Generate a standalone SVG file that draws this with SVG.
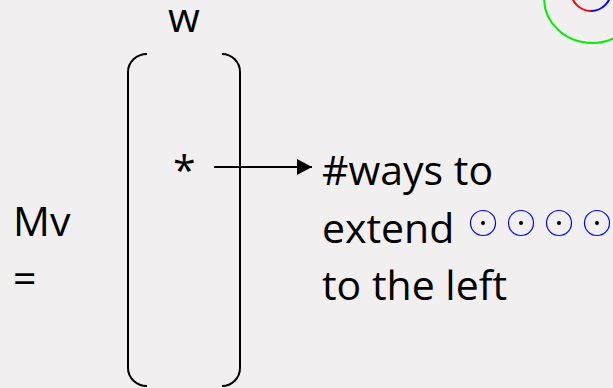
<svg xmlns="http://www.w3.org/2000/svg" width="613" height="388" viewBox="0 0 613 388">
  <style>
    .txt { font-family: "Open Sans", "Liberation Sans", sans-serif; font-size: 41px; fill: #000; }
    .bracket { fill: none; stroke: #000; stroke-width: 2; }
    .dotc { fill: none; stroke: #0000ff; stroke-width: 1.2; }
    .dot { fill: #000; }
  </style>
  <defs>
    <marker id="arrowhead" markerWidth="16" markerHeight="16" refX="15" refY="8" orient="auto" markerUnits="userSpaceOnUse">
      <path d="M0,0 L15,8 L0,16 Z" fill="#000"/>
    </marker>
    <g id="odot">
      <circle class="dotc" cx="0" cy="0" r="12.5"/>
      <circle class="dot" cx="0" cy="0" r="2"/>
    </g>
  </defs>
  <rect width="613" height="388" fill="#f1eff0"/>

  <!-- corner curves -->
  <g id="corner-curves" fill="none" stroke-width="2">
    <ellipse cx="592" cy="-2" rx="48" ry="45" stroke="#00ee00"/>
    <path d="M571,-9 A20,20 0 0 0 591,11" stroke="#ff0000"/>
    <path d="M591,11 A20,20 0 0 0 611,-9" stroke="#0000ff"/>
  </g>

  <!-- label of the matrix column -->
  <g id="w-label"><text class="txt" x="168" y="32">w</text></g>

  <!-- left side of equation -->
  <g id="mv-label">
    <text class="txt" x="13" y="236">Mv</text>
    <text class="txt" x="13" y="293">=</text>
  </g>

  <!-- vector brackets -->
  <g id="vector">
    <path class="bracket" d="M147,54 A19,18 0 0 0 128,72 V368 A19,18 0 0 0 147,386"/>
    <path class="bracket" d="M222,54 A18,18 0 0 1 240,72 V368 A18,18 0 0 1 222,386"/>
    <text class="txt" x="173" y="185">*</text>
  </g>

  <!-- connector -->
  <g id="connectors">
    <line x1="214" y1="167" x2="312" y2="167" stroke="#000" stroke-width="2" marker-end="url(#arrowhead)"/>
  </g>

  <!-- description -->
  <g id="description">
    <text class="txt" x="322" y="185">#ways to</text>
    <text class="txt" x="322" y="243">extend</text>
    <text class="txt" x="322" y="300">to the left</text>
    <use href="#odot" x="483" y="223"/>
    <use href="#odot" x="521" y="223"/>
    <use href="#odot" x="559" y="223"/>
    <use href="#odot" x="597" y="223"/>
  </g>
</svg>
